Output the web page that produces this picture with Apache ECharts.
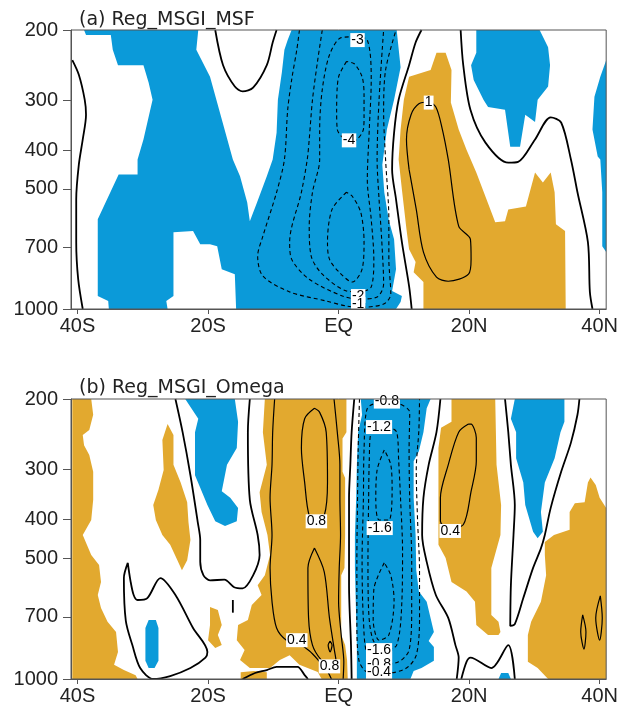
<!DOCTYPE html>
<html>
<head>
<meta charset="utf-8">
<script src="https://cdn.jsdelivr.net/npm/echarts@6/dist/echarts.min.js"></script>
<style>
  html, body { margin: 0; padding: 0; background: #fff; }
  #main { width: 621px; height: 713px; }
</style>
</head>
<body>
<div id="main"></div>
<script>
// ticks
const latTicks = [-40, -20, 0, 20, 40];
const presTicks = [200, 300, 400, 500, 700, 1000];

// ---- panel (a) Reg_MSGI_MSF : [lat, hPa]
const aBlueMain = [[-39.0,200],[-21.5,200],[-21.8,224],[-19.7,262],[-16.2,422],[-15.1,465],[-14.0,541],[-13.6,603],[-12.5,541],[-11.0,465],[-10.1,422],[-9.5,362],[-9.3,299],[-8.7,256],[-8.3,224],[-7.8,212],[-7.2,200],[8.9,200],[9.5,248],[8.5,299],[7.4,355],[6.7,435],[7.0,510],[7.7,600],[8.5,669],[8.8,795],[8.2,901],[9.7,928],[9.5,961],[8.8,1000],[-15.7,1000],[-15.9,818],[-17.9,795],[-18.6,696],[-19.7,688],[-21.2,688],[-22.3,638],[-25.3,642],[-25.3,928],[-26.4,955],[-26.2,1000],[-35.2,1000],[-35.3,955],[-36.9,928],[-36.9,596],[-33.7,460],[-30.8,460],[-30.8,422],[-29.9,376],[-29.1,330],[-28.5,299],[-29.1,271],[-29.9,245],[-33.8,245],[-34.6,224],[-34.9,206],[-38.7,206]];
const aBlueNE = [[21.1,200],[30.8,200],[32.1,221],[32.4,245],[32.1,277],[30.5,299],[30.1,340],[28.6,326],[27.8,392],[26.3,392],[25.5,317],[22.9,312],[22.2,299],[20.7,267],[20.3,245],[21.1,228]];
const aBlueEdge = [[41,238],[40.1,262],[39.2,294],[38.9,355],[39.7,415],[40.1,422],[40.4,510],[40.4,696],[41,720]];
const aGold = [[10.8,262],[14.1,252],[15.0,228],[16.4,228],[17.3,252],[17.2,304],[18.4,355],[19.6,399],[21.1,455],[24.0,606],[25.5,603],[26.0,563],[28.7,554],[30.1,455],[31.3,482],[32.5,455],[33.1,510],[33.3,613],[34.7,638],[34.8,1000],[13.0,1000],[13.0,856],[11.5,809],[11.8,763],[10.8,708],[10.4,631],[9.7,502],[9.2,422],[9.5,355],[10.0,299]];

const aZeroW = [[-40.8,238],[-39.8,259],[-38.9,299],[-38.7,326],[-39.2,376],[-39.8,435],[-40.2,531],[-40.2,680],[-39.9,842],[-39.2,1000]];
const aZeroU = [[-18.9,200],[-17.7,245],[-15.9,277],[-14.7,285],[-13.1,279],[-11.0,245],[-10.1,215],[-9.5,200]];
const aZeroMid = [[12.7,200],[11.8,215],[10.8,245],[9.2,299],[8.5,362],[8.2,447],[8.8,531],[9.7,680],[10.8,876],[11.2,1000]];
const aZeroE = [[18.7,200],[19.1,245],[20.2,317],[22.5,383],[26.0,430],[27.5,428],[30.1,376],[32.5,331],[34.1,341],[35.6,422],[36.6,510],[38.2,680],[38.5,906],[38.9,1000]];
const aPos1 = [[10.8,447],[10.4,376],[11.1,326],[12.3,306],[13.8,303],[14.9,312],[15.8,349],[16.8,422],[18.4,620],[20.2,669],[20.3,750],[19.9,818],[16.8,852],[15.0,832],[13.0,720],[11.9,563],[10.8,447]];
const aNeg1 = [[-6.0,200],[-6.4,224],[-7.2,267],[-7.8,317],[-8.3,422],[-9.5,510],[-11.6,657],[-12.4,737],[-11.6,827],[-7.5,906],[-1.9,955],[1.2,983],[3.2,990],[6.9,972],[8.0,917],[7.7,750],[7.7,596],[7.2,422],[6.9,322],[7.2,252],[8.8,200]];
const aNeg2 = [[-2.5,200],[-3.2,238],[-4.0,299],[-4.5,376],[-4.8,422],[-5.7,510],[-7.5,680],[-7.2,750],[-4.5,842],[0.6,928],[3.2,944],[5.9,933],[6.9,866],[6.6,669],[6.2,531],[5.9,422],[6.2,299],[6.9,200]];
const aNeg3 = [[2.4,208],[4.4,212],[5.0,267],[4.7,355],[4.4,474],[5.0,596],[5.4,750],[5.0,880],[3.2,906],[1.2,901],[-2.5,818],[-4.2,737],[-4.5,620],[-4.0,510],[-2.9,422],[-2.9,355],[-2.5,282],[-1.4,231],[0.4,209],[2.4,208]];
const aNeg4Up = [[1.2,240],[0.1,259],[-0.2,277],[-0.3,317],[-0.2,355],[0.9,376],[1.6,380],[2.8,376],[3.8,355],[3.9,330],[3.9,291],[3.6,262],[2.4,243],[1.2,240]];
const aNeg4Low = [[1.2,510],[-1.0,563],[-1.7,680],[-1.4,750],[0.1,809],[2.1,856],[3.6,795],[3.9,680],[3.4,573],[2.1,522],[1.2,510]];
const aLabelText = ['-3', '-4', '1', '-2', '-1'];
const aLabelPos = [[2.9,212],[1.6,378],[13.8,304],[3.0,928],[3.0,972]];

// ---- panel (b) Reg_MSGI_Omega : [lat, hPa]
const bGoldW = [[-40.8,200],[-37.9,200],[-37.6,219],[-38.2,239],[-39.2,246],[-39.0,261],[-38.2,276],[-37.6,304],[-37.6,357],[-37.9,401],[-39.2,437],[-37.9,490],[-36.7,519],[-36.4,573],[-36.9,617],[-36.4,665],[-35.4,720],[-34.1,763],[-33.8,856],[-34.4,922],[-32.9,950],[-31.1,978],[-30.8,1000],[-40.8,1000]];
const bGoldS = [[-26.2,231],[-25.3,246],[-25.3,292],[-24.2,323],[-23.2,362],[-23.0,406],[-22.7,450],[-23.2,505],[-24.0,535],[-24.7,505],[-25.8,462],[-27.0,437],[-28.0,401],[-28.4,368],[-27.6,337],[-26.8,301],[-27.0,253]];
const bGoldC = [[-11.3,200],[1.2,200],[1.2,242],[0.6,251],[0.6,304],[1.0,315],[1.0,437],[0.9,528],[0.4,551],[0.4,776],[1.0,823],[1.3,896],[1.4,1000],[-2.6,1000],[-3.2,960],[-6.0,922],[-7.5,872],[-9.0,896],[-10.5,939],[-13.6,939],[-15.1,896],[-14.4,847],[-15.6,800],[-15.4,733],[-13.9,712],[-13.3,654],[-11.8,617],[-12.4,583],[-11.3,551],[-10.5,490],[-10.9,437],[-11.8,383],[-12.1,342],[-11.0,292],[-11.6,242]];
const bGoldPatch = [[-15.0,1000],[-11.0,1000],[-11.0,962],[-13.0,955],[-15.0,962]];
const bGoldDot = [[-19.7,661],[-18.5,673],[-17.9,733],[-18.5,776],[-17.9,823],[-18.9,837],[-20.0,800],[-19.7,733]];
const bGoldN = [[17.3,200],[24.0,200],[24.2,292],[24.9,368],[24.8,437],[23.4,528],[23.4,692],[24.5,720],[24.8,763],[24.5,776],[22.9,776],[21.1,733],[20.9,641],[19.6,605],[17.3,573],[16.4,499],[15.3,462],[15.3,353],[15.3,265],[15.7,236],[17.3,228]];
const bGoldE = [[38.6,314],[39.4,328],[40.0,353],[41,374],[41,1000],[32.1,1000],[30.5,939],[29.0,906],[29.0,776],[29.5,720],[31.0,641],[31.8,551],[31.6,490],[31.6,455],[33.0,437],[35.4,424],[35.4,383],[36.2,364],[37.7,362],[38.2,323]];
const bBlueW = [[-23.5,200],[-15.9,200],[-15.4,228],[-15.6,265],[-17.1,292],[-17.9,340],[-16.6,353],[-15.4,374],[-15.6,404],[-17.4,415],[-18.9,404],[-20.1,368],[-22.0,310],[-22.0,242],[-21.5,224]];
const bBlueC = [[3.4,200],[14.1,200],[13.5,211],[13.0,242],[12.3,270],[11.5,286],[11.5,353],[11.8,437],[11.9,535],[12.3,605],[13.5,641],[14.6,763],[13.8,804],[14.6,832],[14.6,901],[12.7,939],[11.5,955],[11.0,1000],[2.8,1000],[2.8,823],[2.5,528],[2.5,437],[2.7,353],[2.8,292],[3.0,242],[3.6,219]];
const bBlueE = [[27.0,200],[34.6,200],[34.6,228],[34.0,242],[33.1,281],[31.6,323],[31.0,383],[31.3,429],[30.5,445],[29.8,429],[28.6,368],[28.3,323],[27.2,281],[27.2,242],[26.4,224]];
const bBlueBar = [[-29.1,712],[-28.0,712],[-27.6,746],[-27.6,901],[-28.2,939],[-29.1,939],[-29.6,901],[-29.6,746]];
const bBlueDot = [[24.5,1000],[24.9,966],[26.0,966],[26.4,1000]];

const bZeroW = [[-25.0,200],[-23.9,242],[-22.7,310],[-21.6,404],[-21.2,450],[-21.2,510],[-20.7,551],[-19.7,567],[-17.5,565],[-16.0,590],[-14.7,594],[-13.1,551],[-12.1,490],[-12.4,437],[-13.6,357],[-13.9,242],[-13.6,200]];
const bLoopSW = [[-32.3,513],[-31.9,567],[-31.4,617],[-30.8,635],[-29.3,628],[-27.3,560],[-25.0,617],[-22.3,746],[-20.1,856],[-20.4,884],[-22.7,939],[-25.8,983],[-28.4,1000],[-30.4,939],[-31.6,823],[-32.6,716],[-32.9,560],[-32.3,513]];
const bBump = [[-14.7,1000],[-12.8,966],[-11.0,950],[-9.5,933],[-6.3,933],[-5.2,978],[-4.7,1000]];
const bTick = [[-16.2,635],[-16.2,683]];
const bZeroC = [[2.4,200],[2.0,242],[1.8,292],[1.6,353],[1.6,437],[1.6,583],[1.9,823],[2.0,1000]];
const bPos04L = [[-9.8,200],[-10.1,242],[-10.2,292],[-10.5,353],[-10.2,437],[-10.5,528],[-10.2,641],[-9.5,746],[-8.0,800],[-6.4,812],[-4.5,850],[-2.9,905],[-1.8,950],[-1.1,1000]];
const bPos04R = [[-0.7,200],[-0.2,242],[0.2,292],[0.2,353],[0.3,437],[0.1,528],[0.0,641],[0.4,776],[0.8,906],[0.7,1000]];
const bPos08Up = [[-3.7,211],[-5.2,224],[-5.7,265],[-5.2,323],[-4.5,391],[-3.4,400],[-2.2,391],[-1.7,323],[-1.9,242],[-2.9,216],[-3.7,211]];
const bPos08Low = [[-3.7,471],[-4.7,528],[-4.6,704],[-4.0,823],[-2.7,895],[-1.4,925],[-0.4,900],[-0.6,856],[-1.4,704],[-2.2,540],[-3.7,471]];
const bPos12 = [[-1.3,804],[-1.0,823],[-1.3,856],[-1.6,823],[-1.3,804]];
const bNeg04 = [[3.2,200],[3.0,268],[2.9,357],[2.8,505],[2.8,712],[3.1,896],[4.4,960],[7.7,966],[10.4,939],[11.9,872],[12.4,712],[12.4,535],[12.1,401],[11.9,301],[12.3,239],[12.4,200]];
const bNeg08 = [[7.4,202],[4.4,211],[3.9,268],[3.8,357],[3.6,505],[3.8,712],[4.4,872],[6.2,922],[9.2,906],[10.8,847],[11.2,673],[11.2,505],[10.9,357],[10.8,268],[10.9,216],[9.2,205],[7.4,202]];
const bNeg12 = [[6.2,236],[5.0,240],[4.7,284],[4.6,357],[4.5,505],[4.6,673],[5.3,800],[7.0,847],[8.9,823],[9.7,637],[9.8,479],[9.5,357],[9.2,284],[8.9,242],[7.7,236],[6.2,236]];
const bNeg16Up = [[7.0,268],[5.9,301],[5.7,357],[6.2,401],[7.7,401],[8.2,337],[8.0,292],[7.0,268]];
const bNeg16Low = [[7.0,513],[5.4,598],[5.3,712],[6.2,800],[7.7,776],[8.5,637],[8.0,551],[7.0,513]];
const bZeroN = [[15.6,200],[15.0,242],[13.8,292],[13.0,353],[12.8,437],[13.5,510],[14.9,617],[16.8,704],[17.9,823],[18.4,884],[18.1,1000]];
const bBumpN = [[18.8,1000],[19.6,906],[20.2,884],[23.4,939],[26.0,823],[27.0,1000]];
const bZeroE = [[25.5,200],[26.0,242],[26.4,292],[27.0,368],[26.8,437],[26.4,583],[26.3,737],[27.0,729],[28.3,628],[29.8,528],[31.0,472],[31.6,437],[32.5,374],[34.1,304],[35.6,257],[36.6,219],[36.9,200]];
const bPos04N = [[19.9,231],[18.4,242],[16.8,292],[15.6,353],[15.6,404],[16.8,420],[19.1,412],[20.3,340],[21.1,286],[21.1,250],[20.3,231],[19.9,231]];
const bRing1 = [[37.4,692],[37.9,763],[37.6,842],[37.1,763],[37.4,692]];
const bRing2 = [[40.1,620],[40.4,704],[40.0,800],[39.4,704],[40.1,620]];
const bLabelText = ['0.8', '0.4', '0.8', '0.4', '-0.8', '-1.2', '-1.6', '-1.2', '-0.8', '-1.6', '-0.4'];
const bLabelPos = [[-3.4,404],[-6.4,800],[-1.4,930],[17.1,427],[7.4,203],[6.2,235],[6.3,420],[6.2,886],[6.2,917],[6.2,847],[6.2,962]];

const BLUE = '#0b9ad9';
const GOLD = '#e2a92f';
const FONT = 'Liberation Sans';

function fill(pts, color, g) {
  return {
    type: 'custom', xAxisIndex: g, yAxisIndex: g, data: pts, clip: true, z: 2,
    silent: true, animation: false,
    renderItem: function (params, api) {
      if (params.dataIndex !== 0) return null;
      return {
        type: 'polygon',
        shape: { points: pts.map(function (p) { return api.coord(p); }) },
        style: { fill: color, stroke: null }
      };
    }
  };
}

function curve(pts, g, width, dashed) {
  return {
    type: 'line', xAxisIndex: g, yAxisIndex: g, data: pts,
    showSymbol: false, symbol: 'none', smooth: 0.3, clip: true, z: 5,
    silent: true, animation: false,
    lineStyle: { color: '#000', width: width, type: dashed ? [4, 3] : 'solid' }
  };
}

function labels(texts, pos, g) {
  return {
    type: 'scatter', xAxisIndex: g, yAxisIndex: g, symbolSize: 0, z: 8,
    silent: true, animation: false,
    itemStyle: { opacity: 1 },
    data: texts.map(function (t, i) { return { name: t, value: pos[i] }; }),
    label: {
      show: true, position: 'inside', formatter: '{b}', fontSize: 14, opacity: 1,
      fontFamily: FONT, color: '#000', backgroundColor: '#ffffff', padding: [0, 1]
    }
  };
}

function latName(v) {
  if (v === 0) return 'EQ';
  return v < 0 ? (-v) + 'S' : v + 'N';
}

function xAxisFor(g) {
  return {
    gridIndex: g, type: 'value', min: -41, max: 41, z: 10,
    axisLine: { onZero: false, lineStyle: { color: '#555', width: 1 } },
    axisTick: { customValues: latTicks, length: 5, lineStyle: { color: '#555' } },
    axisLabel: { customValues: latTicks, formatter: latName, fontSize: 20, margin: 7, color: '#222', fontFamily: FONT },
    splitLine: { show: false }
  };
}

function yAxisFor(g) {
  return {
    gridIndex: g, type: 'log', logBase: 10, min: 200, max: 1000, inverse: true, z: 10,
    axisLine: { onZero: false, lineStyle: { color: '#555', width: 1 } },
    axisTick: { customValues: presTicks, length: 8, lineStyle: { color: '#555' } },
    axisLabel: {
      customValues: presTicks, fontSize: 20, margin: 13, color: '#222', fontFamily: FONT,
      formatter: function (v) { return String(Math.round(v)); }
    },
    splitLine: { show: false }, minorTick: { show: false }
  };
}

const series = [
  fill(aBlueMain, BLUE, 0), fill(aBlueNE, BLUE, 0), fill(aBlueEdge, BLUE, 0), fill(aGold, GOLD, 0),
  curve(aZeroW, 0, 1.8), curve(aZeroU, 0, 1.8), curve(aZeroMid, 0, 1.8), curve(aZeroE, 0, 1.8),
  curve(aPos1, 0, 1.2),
  curve(aNeg1, 0, 1.1, true), curve(aNeg2, 0, 1.1, true), curve(aNeg3, 0, 1.1, true),
  curve(aNeg4Up, 0, 1.1, true), curve(aNeg4Low, 0, 1.1, true),
  labels(aLabelText, aLabelPos, 0),

  fill(bGoldW, GOLD, 1), fill(bGoldS, GOLD, 1), fill(bGoldC, GOLD, 1), fill(bGoldPatch, GOLD, 1),
  fill(bGoldDot, GOLD, 1), fill(bGoldN, GOLD, 1), fill(bGoldE, GOLD, 1),
  fill(bBlueW, BLUE, 1), fill(bBlueC, BLUE, 1), fill(bBlueE, BLUE, 1), fill(bBlueBar, BLUE, 1), fill(bBlueDot, BLUE, 1),
  curve(bZeroW, 1, 1.8), curve(bLoopSW, 1, 1.8), curve(bBump, 1, 1.8), curve(bTick, 1, 1.8),
  curve(bZeroC, 1, 1.8), curve(bZeroN, 1, 1.8), curve(bBumpN, 1, 1.8), curve(bZeroE, 1, 1.8),
  curve(bPos04L, 1, 1.2), curve(bPos04R, 1, 1.2), curve(bPos08Up, 1, 1.2), curve(bPos08Low, 1, 1.2),
  curve(bPos12, 1, 1.2), curve(bPos04N, 1, 1.2), curve(bRing1, 1, 1.2), curve(bRing2, 1, 1.2),
  curve(bNeg04, 1, 1.1, true), curve(bNeg08, 1, 1.1, true), curve(bNeg12, 1, 1.1, true),
  curve(bNeg16Up, 1, 1.1, true), curve(bNeg16Low, 1, 1.1, true),
  labels(bLabelText, bLabelPos, 1)
];

const chart = echarts.init(document.getElementById('main'));
chart.setOption({
  animation: false,
  backgroundColor: '#fff',
  title: [
    { text: '(a) Reg_MSGI_MSF', left: 74, top: 6, textStyle: { fontSize: 19, fontWeight: 'normal', color: '#222', fontFamily: 'DejaVu Sans' } },
    { text: '(b) Reg_MSGI_Omega', left: 74, top: 374, textStyle: { fontSize: 19, fontWeight: 'normal', color: '#222', fontFamily: 'DejaVu Sans' } }
  ],
  grid: [
    { left: 71, top: 30, width: 538, height: 279, show: true, borderColor: '#555', borderWidth: 1, z: 10 },
    { left: 71, top: 399, width: 538, height: 280, show: true, borderColor: '#555', borderWidth: 1, z: 10 }
  ],
  xAxis: [xAxisFor(0), xAxisFor(1)],
  yAxis: [yAxisFor(0), yAxisFor(1)],
  series: series
});
</script>
</body>
</html>
